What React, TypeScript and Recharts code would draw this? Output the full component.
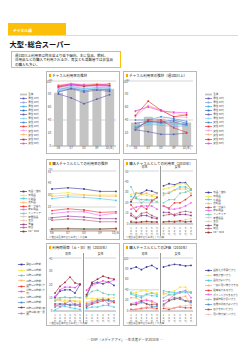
import { Bar, CartesianGrid, ComposedChart, Line, LineChart, XAxis, YAxis } from "recharts";

const FONT = '"Noto Sans CJK JP", "Noto Sans", sans-serif';

// ---- data ----
const years = ['06', '07', '08', '09', '10(年)'];
const segments = ['男性 10代', '男性 20代', '男性 30代', '男性 40代', '男性 50代', '男性 60代', '女性 10代', '女性 20代', '女性 30代', '女性 40代', '女性 50代', '女性 60代'];

const usageTotal = [82, 88, 84, 87, 88];
const usageBySegment = [
  [80, 74, 65, 72, 79],
  [88, 90, 86, 87, 88],
  [86, 92, 88, 90, 89],
  [84, 89, 85, 88, 86],
  [83, 88, 83, 86, 84],
  [85, 91, 87, 89, 90],
  [90, 95, 92, 93, 92],
  [92, 96, 93, 95, 94],
  [89, 93, 90, 92, 91],
  [94, 96, 95, 96, 95],
  [91, 94, 92, 94, 93],
  [93, 95, 94, 93, 96],
];

const weeklyTotal = [36, 45, 42, 38, 36];
const weeklyBySegment = [
  [25, 22, 18, 18, 20],
  [28, 33, 32, 30, 31],
  [30, 36, 35, 34, 33],
  [27, 38, 37, 40, 35],
  [35, 38, 36, 37, 32],
  [26, 34, 33, 35, 30],
  [40, 40, 45, 42, 38],
  [25, 40, 40, 28, 21],
  [45, 62, 55, 45, 44],
  [53, 62, 55, 50, 47],
  [47, 69, 55, 45, 48],
  [54, 60, 54, 52, 51],
];

const items = ['食品・飲料', '日用品', '化粧品', '衣料品', '靴・かばん', '家庭用品', 'インテリア', '家電製品', '文具', '書籍', '玩具', 'CD・DVD'];
const purchaseByItem = [
  [35, 36, 35, 33, 33],
  [31, 32, 30, 30, 30],
  [27, 28.5, 28, 27, 25.5],
  [29, 30, 30, 29, 29],
  [17, 18.5, 17.5, 15.5, 16],
  [14.5, 16, 16, 13, 15],
  [2, 2.3, 2, 1.8, 2],
  [1, 1, 1, 1, 1],
  [0.5, 0.6, 0.5, 0.5, 0.5],
  [11, 12.4, 11.6, 10.3, 10.3],
  [9, 10, 9.3, 7.7, 7.7],
  [1.6, 1.9, 1.6, 1.6, 2.1],
];

const ages = ['10代', '20代', '30代', '40代', '50代', '60代'];

const purchaseMale = [
  [21, 29, 29, 32, 31, 29],
  [28, 29, 28, 27, 26, 26],
  [26, 24, 23, 23, 21, 25],
  [23, 25, 28, 29, 27, 29],
  [18, 12, 17, 14, 22, 25],
  [14, 16, 17, 17, 17, 14],
  [35, 25, 20, 23, 23, 21],
  [1, 1, 1, 1, 1, 1],
  [3, 2, 1.5, 1.5, 2, 1.5],
  [8, 5, 8, 8, 6, 5],
  [10, 6, 10, 11, 8, 6],
  [2, 1.5, 2, 2.5, 2, 2],
];
const purchaseFemale = [
  [36, 38, 37, 39, 39, 33],
  [33, 34, 36, 38, 38, 33],
  [29, 29, 32, 35, 35, 32],
  [27, 30, 32, 33, 33, 29],
  [17, 15, 20, 20, 23, 27],
  [17, 14, 14, 15, 17, 20],
  [20, 23, 23, 29, 30, 32],
  [1, 1, 1, 1.5, 1, 1],
  [1.5, 2, 3, 3, 4, 5],
  [11, 11, 8, 9, 9, 8],
  [8, 9, 9, 11, 12, 11],
  [2, 2.5, 2, 3, 2, 2.5],
];

const timeBands = ['開店〜10時前', '10時〜12時前', '12時〜14時前', '14時〜16時前', '16時〜17時前 (夕方)', '17時〜18時前 (夕方)', '18時〜19時前', '19時〜20時前', '20時〜21時前 (夜)', '21時以降 (夜・深夜)'];
const timeMale = [
  [10, 15, 16, 16, 13.5, 20],
  [8.8, 8.8, 8.1, 8.1, 7.7, 7.7],
  [0.7, 3, 3.5, 2.6, 1.9, 1.2],
  [7.7, 8.1, 6.5, 7.7, 7.2, 6.5],
  [5.3, 5.3, 5.3, 4.2, 4.7, 3.5],
  [11, 16, 18, 18, 17.7, 20.5],
  [7.7, 10, 10.5, 10, 10.5, 10],
  [3, 5.3, 4.9, 4.9, 5.3, 4.7],
  [13.5, 18.6, 21.6, 25.6, 21.2, 20],
  [4.2, 3.5, 4.9, 7.7, 4.2, 5.3],
];
const timeFemale = [
  [11, 20.5, 21.6, 20.5, 22, 19.3],
  [9.5, 9.5, 9.5, 10, 9.5, 10],
  [1.9, 3, 3, 4.2, 4.2, 3],
  [6.5, 7.7, 8.8, 8.1, 7.7, 6.5],
  [3, 5.3, 6.5, 7.7, 8.8, 6.5],
  [15.8, 19.3, 21, 22.8, 21.6, 23.5],
  [11, 14.7, 15.8, 13.5, 12.3, 12.3],
  [4.2, 5.8, 7.7, 8.8, 7.7, 7.7],
  [12.3, 21.6, 24, 26.3, 25, 24],
  [5.3, 6.5, 8.1, 8.8, 5.3, 7.7],
];

const reasons = ['品揃えが豊富だから', '価格が安いから', '品質がよいから', '一度に買い物ができる', '駐車場があるから', 'ポイントがたまるから', '営業時間が長いから', '店員の対応がよいから', '店がきれいだから', '買い物が楽しいから'];
const reasonMale = [
  [80, 83, 78, 83, 86, 80],
  [36, 35, 38, 38, 34, 34],
  [32, 28, 25, 31, 29, 28],
  [25, 25, 19, 22, 16, 13],
  [3, 3, 5, 6, 6, 5],
  [14, 16, 20, 20, 19, 14],
  [34, 31, 28, 32, 34, 31],
  [12, 12, 16, 14, 8, 9],
  [12, 13, 19, 13, 12, 12],
  [1, 2, 3, 8, 5, 2],
];
const reasonFemale = [
  [83, 86, 88, 87, 85, 86],
  [31, 36, 38, 45, 45, 34],
  [38, 36, 34, 36, 35, 36],
  [34, 31, 25, 25, 28, 10],
  [5, 3, 6, 8, 6, 6],
  [19, 22, 31, 36, 39, 25],
  [25, 31, 31, 34, 38, 34],
  [13, 19, 25, 22, 19, 16],
  [10, 20, 22, 25, 19, 19],
  [9, 5, 6, 9, 10, 12],
];

// ---- colours ----
const segmentColors = ['#5a5ab0', '#9a9ae0', '#3ab4e6', '#2f6fc4', '#6a5aaa', '#78d8ea', '#4a8ad8', '#e83a34', '#f49af0', '#f8b870', '#d82a22', '#f040f0', '#fcc8a0'];
const itemColors = ['#35359a', '#f4e23a', '#40c8e8', '#f8b860', '#e8322e', '#f060f0', '#70c8b4', '#c8c8c8', '#f8c0a0', '#8a3a8a', '#b86070', '#8b3030'];
const timeColors = ['#35359a', '#f4e23a', '#40c8e8', '#f8b860', '#e8322e', '#f040f0', '#70c8b4', '#4a8ad0', '#9a2a3a', '#c070d0'];
const reasonColors = ['#35359a', '#f4e23a', '#40c8e8', '#f8b060', '#e8322e', '#f060f0', '#70c8b4', '#4a8ad0', '#a05050', '#f8c0b0'];
const BAR_GRAY = '#c4c4c4';

const toRows = (cats: string[], series: number[][], total?: number[]) =>
  cats.map((c, i) => {
    const row: Record<string, number | string> = { cat: c };
    series.forEach((s, k) => { row['s' + k] = s[i]; });
    if (total) row.total = total[i];
    return row;
  });

const tickStyle = { fontSize: 3, fill: '#555', fontFamily: FONT };

const seriesLines = (series: number[][], colors: string[]) =>
  series.map((_, k) => (
    <Line
      key={k}
      dataKey={'s' + k}
      stroke={colors[k]}
      strokeWidth={0.6}
      dot={{ r: 0.9, fill: colors[k], stroke: 'none' }}
      isAnimationActive={false}
    />
  ));

// age labels written top-to-bottom under each point
const VerticalTick = (props: any) => {
  const { x, y, payload } = props;
  return (
    <text x={x} y={y + 3} fontSize={2.6} fill="#555" fontFamily={FONT} textAnchor="middle">
      {String(payload.value).split('').map((c: string, i: number) => (
        <tspan key={i} x={x} dy={i === 0 ? 0 : 2.8}>{c}</tspan>
      ))}
    </text>
  );
};

function Panel({ left, top, width, height, title, children }: any) {
  return (
    <div style={{ position: 'absolute', left, top, width, height, border: '1px solid #b8b8b8', boxSizing: 'border-box', background: '#fff' }}>
      <div style={{ position: 'absolute', left: 2, top: 1.5, display: 'flex', alignItems: 'center', fontSize: 3.5, lineHeight: '4px', whiteSpace: 'nowrap', color: '#222' }}>
        <span style={{ display: 'inline-block', width: 2.4, height: 2.4, background: '#f5a800', marginRight: 0.8 }} />
        {title}
      </div>
      {children}
    </div>
  );
}

function Legend({ left, top, width, rowHeight, labels, colors, firstBar, fontSize = 2.6, wrap = false }: any) {
  return (
    <div style={{ position: 'absolute', left, top, width }}>
      {labels.map((label: string, i: number) => {
        const isBar = firstBar && i === 0;
        const c = colors[i];
        return (
          <div key={i} style={{ display: 'flex', alignItems: 'center', height: rowHeight, fontSize, lineHeight: `${fontSize + 0.2}px`, color: '#444', whiteSpace: wrap ? 'normal' : 'nowrap' }}>
            <svg width={7} height={3} style={{ flex: 'none', marginRight: 1.2 }}>
              {isBar ? (
                <rect x={0} y={0.6} width={7} height={1.8} fill={c} />
              ) : (
                <>
                  <line x1={0} x2={7} y1={1.5} y2={1.5} stroke={c} strokeWidth={0.7} />
                  <rect x={2.6} y={0.6} width={1.8} height={1.8} fill={c} />
                </>
              )}
            </svg>
            <span>{label}</span>
          </div>
        );
      })}
    </div>
  );
}

function TrendChart({ total, series, colors, max, ticks, width, height, top, left, labelGap = 1.2 }: any) {
  const rows = toRows(years, series, total);
  return (
    <div style={{ position: 'absolute', left, top }}>
      <ComposedChart width={width} height={height} data={rows} margin={{ top: 1, right: 3, bottom: 0, left: 0 }}>
        <CartesianGrid vertical={false} stroke="#a8a8a8" strokeWidth={0.5} />
        <XAxis dataKey="cat" tick={tickStyle} tickLine={false} tickSize={0} axisLine={{ stroke: '#888', strokeWidth: 0.5 }} height={6} tickMargin={labelGap} interval={0} />
        <YAxis domain={[0, max]} ticks={ticks} tick={tickStyle} tickLine={false} tickSize={0} axisLine={false} width={6} tickMargin={0.8} />
        {total && <Bar dataKey="total" fill={BAR_GRAY} barSize={9} isAnimationActive={false} />}
        {seriesLines(series, colors)}
      </ComposedChart>
    </div>
  );
}

function FacetChart({ data, colors, max, ticks, left, width, height, showAxis, marginLeft, marginRight, axisWidth }: any) {
  const rows = toRows(ages, data);
  return (
    <div style={{ position: 'absolute', left, top: 0 }}>
      <LineChart width={width} height={height} data={rows} margin={{ top: 1, right: marginRight, bottom: 0, left: marginLeft }}>
        <CartesianGrid vertical={false} stroke="#a8a8a8" strokeWidth={0.5} />
        <XAxis dataKey="cat" tick={<VerticalTick />} tickLine={false} tickSize={0} axisLine={{ stroke: '#888', strokeWidth: 0.5 }} height={12} interval={0} padding={{ left: 2, right: 2 }} />
        <YAxis domain={[0, max]} ticks={ticks} tick={showAxis ? tickStyle : false} tickLine={false} tickSize={0} axisLine={false} width={showAxis ? axisWidth : 0} tickMargin={0.6} hide={!showAxis} />
        {seriesLines(data, colors)}
      </LineChart>
    </div>
  );
}

function FacetPair({ male, female, colors, max, ticks, plotTop, height, axisWidth }: any) {
  const split = 36;
  const headStyle = { position: 'absolute' as const, top: -3.6, textAlign: 'center' as const, fontSize: 3, lineHeight: '3.4px', color: '#333' };
  return (
    <div style={{ position: 'absolute', left: 0, top: plotTop, width: 72, height }}>
      <div style={{ ...headStyle, left: axisWidth, width: split - axisWidth }}>男性</div>
      <div style={{ ...headStyle, left: split + 1, width: 33 }}>女性</div>
      <div style={{ position: 'absolute', left: split, top: -4, width: 0.7, height: height + 4, background: '#9a9a9a' }} />
      <FacetChart data={male} colors={colors} max={max} ticks={ticks} left={0} width={split} height={height} showAxis axisWidth={axisWidth} marginLeft={0} marginRight={1} />
      <FacetChart data={female} colors={colors} max={max} ticks={ticks} left={split} width={72 - split} height={height} showAxis={false} marginLeft={1.5} marginRight={3} />
    </div>
  );
}

const Note = ({ bottom }: any) => (
  <div style={{ position: 'absolute', left: 2, bottom, fontSize: 2.4, lineHeight: '2.8px', color: '#666', whiteSpace: 'nowrap' }}>※数値は全体の値を基準とした比率</div>
);

const PctLabel = ({ top }: any) => (
  <div style={{ position: 'absolute', left: 1.5, top, fontSize: 2.6, lineHeight: '3px', color: '#555' }}>(%)</div>
);

export default function App() {
  return (
    <div style={{ position: 'absolute', left: 0, top: 0, width: 250, height: 353, background: '#fff', fontFamily: FONT, overflow: 'hidden' }}>
      {/* section tab */}
      <div style={{ position: 'absolute', left: 8, top: 23, width: 58, height: 12, background: '#fcc00a' }}>
        <div style={{ position: 'absolute', left: 5, top: 5.5, fontSize: 3.8, lineHeight: '4px', color: '#fff', fontWeight: 700, whiteSpace: 'nowrap' }}>チャネル編</div>
      </div>
      <div style={{ position: 'absolute', left: 8, top: 34.5, width: 230, height: 0.8, background: '#fddc7a' }} />

      <div style={{ position: 'absolute', left: 9.5, top: 40, fontSize: 7.2, lineHeight: '9px', fontWeight: 700, color: '#111', whiteSpace: 'nowrap' }}>大型･総合スーパー</div>

      <div style={{ position: 'absolute', left: 11, top: 51, width: 110, height: 17, border: '1px solid #fcc00a', boxSizing: 'border-box', padding: '1.5px 3px', fontSize: 3.5, lineHeight: '4.6px', color: '#222', whiteSpace: 'nowrap' }}>
        週1回以上利用率は昨年並より低下傾向。主に食品、飲料、<br />
        日用品などの購入で利用されるが、男女とも高齢層では非食品<br />
        の購入も多い。
      </div>

      {/* row 1 */}
      <Panel left={46} top={71} width={74} height={83} title="チャネル利用率の推移">
        <PctLabel top={6.5} />
        <TrendChart total={usageTotal} series={usageBySegment} colors={segmentColors} max={100} ticks={[0, 20, 40, 60, 80, 100]} width={73} height={72} top={8} left={-1} />
      </Panel>
      <Legend left={20} top={92} width={26} rowHeight={4.1} labels={['全体', ...segments]} colors={[BAR_GRAY, ...segmentColors]} firstBar fontSize={2.5} />

      <Panel left={123} top={71} width={74} height={83} title="チャネル利用率の推移（週1回以上）">
        <PctLabel top={6.5} />
        <TrendChart total={weeklyTotal} series={weeklyBySegment} colors={segmentColors} max={100} ticks={[0, 20, 40, 60, 80, 100]} width={73} height={72} top={8} left={-1} />
      </Panel>
      <Legend left={205} top={92} width={36} rowHeight={4.1} labels={['全体', ...segments]} colors={[BAR_GRAY, ...segmentColors]} firstBar fontSize={2.5} />

      {/* row 2 */}
      <Panel left={46} top={159} width={74} height={81} title="購入チャネルとしての利用率の推移">
        <PctLabel top={7.5} />
        <TrendChart series={purchaseByItem} colors={itemColors} max={50} ticks={[0, 10, 20, 30, 40, 50]} width={73} height={67} top={9.5} left={-1} labelGap={0.6} />
        <Note bottom={0.2} />
      </Panel>
      <Legend left={20} top={190} width={26} rowHeight={3.6} labels={items} colors={itemColors} fontSize={2.5} />

      <Panel left={123} top={159} width={74} height={81} title="購入チャネルとしての利用率（2010年）">
        <FacetPair male={purchaseMale} female={purchaseFemale} colors={itemColors} max={50} ticks={[0, 10, 20, 30, 40, 50]} plotTop={10} height={66} axisWidth={5} />
        <Note bottom={0.2} />
      </Panel>
      <Legend left={205} top={191} width={36} rowHeight={3.6} labels={items} colors={itemColors} fontSize={2.5} />

      {/* row 3 */}
      <Panel left={46} top={243} width={74} height={83} title="利用時間帯（土・日）別（2010年）">
        <FacetPair male={timeMale} female={timeFemale} colors={timeColors} max={40} ticks={[0, 10, 20, 30, 40]} plotTop={12.5} height={66} axisWidth={6} />
        <Note bottom={0.2} />
      </Panel>
      <Legend left={18} top={262} width={28} rowHeight={5.4} labels={timeBands} colors={timeColors} fontSize={2.4} wrap />

      <Panel left={123} top={243} width={74} height={83} title="購入チャネルとしての評価（2010年）">
        <FacetPair male={reasonMale} female={reasonFemale} colors={reasonColors} max={100} ticks={[0, 20, 40, 60, 80, 100]} plotTop={12.5} height={66} axisWidth={5} />
        <Note bottom={0.2} />
      </Panel>
      <Legend left={205} top={268} width={38} rowHeight={4.9} labels={reasons} colors={reasonColors} fontSize={2.5} />

      <div style={{ position: 'absolute', left: 0, width: 250, top: 338, textAlign: 'center', fontSize: 3.4, lineHeight: '4px', color: '#444' }}>― DNP『メディアアイ』―生活者データ2010年 ―</div>
    </div>
  );
}
